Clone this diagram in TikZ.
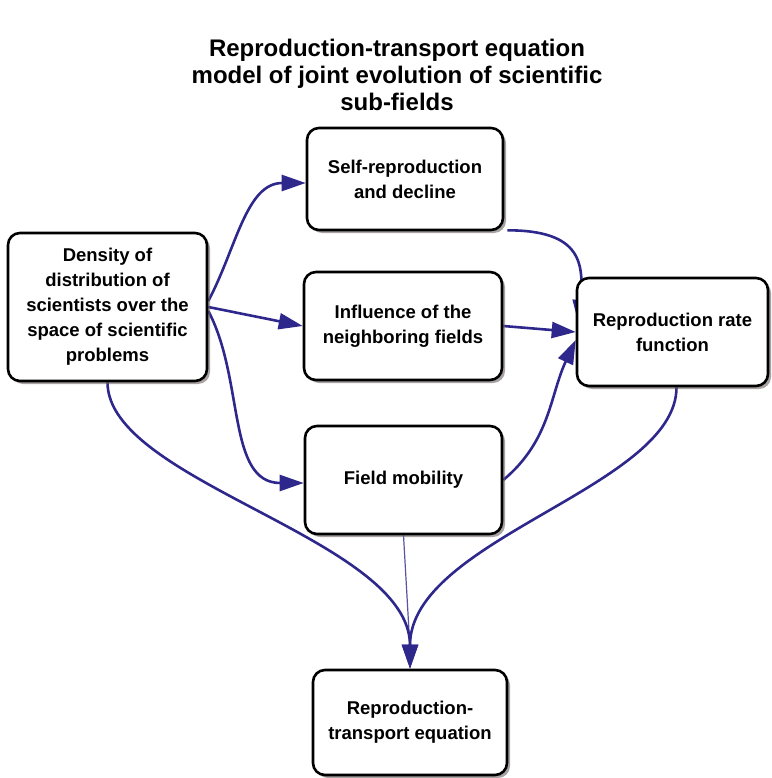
\documentclass[tikz,border=0pt]{standalone}
\usepackage{fontspec}
\setmainfont{Liberation Sans}
\usetikzlibrary{arrows.meta,shadows,backgrounds}
\definecolor{arrowblue}{RGB}{46,40,140}
\definecolor{shadowcol}{RGB}{110,100,100}
\tikzset{
  box/.style={draw=black, line width=2.6pt, rounded corners=12pt, fill=white,
    align=center, font=\fontsize{18.5}{25}\selectfont\bfseries, inner sep=0pt,
    drop shadow={shadow xshift=3pt, shadow yshift=-3pt, fill=shadowcol, opacity=0.6}},
  conn/.style={draw=arrowblue, line width=2.6pt, -{Triangle[length=24pt,width=16pt]}},
  thinline/.style={draw=arrowblue!80, line width=1.2pt},
  titlestyle/.style={font=\fontsize{24}{27}\selectfont\bfseries, align=center}
}
\begin{document}
\begin{tikzpicture}[x=1pt,y=1pt]
\useasboundingbox (0,0) rectangle (771,-778);
\node[titlestyle] (title) at (397,-75) {Reproduction-transport equation\\model of joint evolution of scientific\\sub-fields};
\node[box, minimum width=199pt, minimum height=148pt] (dens) at (107.5,-307) {Density of\\distribution of\\scientists over the\\space of scientific\\problems};
\node[box, minimum width=196pt, minimum height=102pt] (self) at (405,-179) {Self-reproduction\\and decline};
\node[box, minimum width=198pt, minimum height=108pt] (infl) at (403,-326) {Influence of the\\neighboring fields};
\node[box, minimum width=197pt, minimum height=108pt] (field) at (403.5,-480) {Field mobility};
\node[box, minimum width=191pt, minimum height=108pt] (rate) at (672.5,-332) {Reproduction rate\\function};
\node[box, minimum width=194pt, minimum height=105pt] (rt) at (410,-722.5) {Reproduction-\\transport equation};
\begin{scope}[on background layer]
\draw[conn] ([yshift=6pt]dens.east) to[out=62,in=180] ([yshift=-4pt]self.west);
\draw[conn] (dens.east) -- (infl.west);
\draw[conn] ([yshift=-4pt]dens.east) to[out=-62,in=180] ([yshift=-3pt]field.west);
\draw[conn] ([xshift=3pt,yshift=1pt]self.south east) .. controls +(75,0) and +(5,60) .. ([xshift=3pt,yshift=8pt]rate.west);
\draw[conn] (infl.east) -- (rate.west);
\draw[conn] (field.east) to[out=40,in=-115] ([yshift=-8pt]rate.west);
\draw[thinline] (field.south) -- ([yshift=20pt]rt.north);
\draw[conn] (dens.south) .. controls +(0,-100) and +(0,130) .. (rt.north);
\draw[conn] ([xshift=4pt]rate.south) .. controls +(0,-100) and +(0,130) .. (rt.north);
\end{scope}
\end{tikzpicture}
\end{document}
